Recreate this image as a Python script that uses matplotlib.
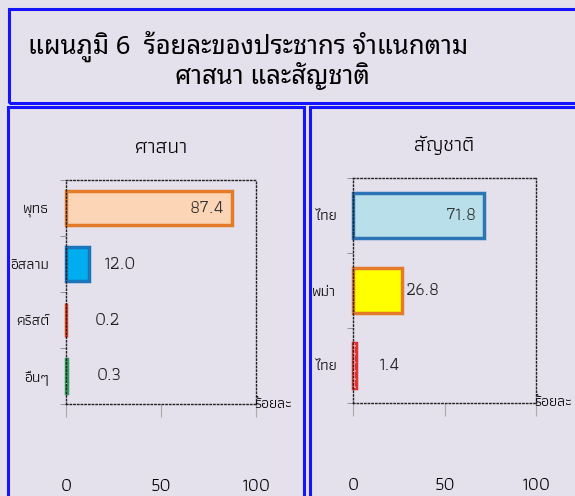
import matplotlib
matplotlib.use('Agg')
import matplotlib.pyplot as plt
from matplotlib.patches import Rectangle

# data
religions = ['พุทธ', 'อิสลาม', 'คริสต์', 'อื่นๆ']
religion_pct = [87.4, 12.0, 0.2, 0.3]
religion_fill = ['#fbd5b5', '#00aeef', '#e8401c', '#3cb878']
religion_edge = ['#e47b29', '#1b75bb', '#e8401c', '#2f9e5a']

nations = ['ไทย', 'พม่า', 'ไทย']
nation_pct = [71.8, 26.8, 1.4]
nation_fill = ['#b9e0ea', '#ffff00', '#f05050']
nation_edge = ['#2e75b6', '#e47b29', '#e03030']

xticks = [0, 50, 100]

W, H = 575, 496
BG = '#e4e0ec'
BLUE = '#1414ff'
THAI = ['Noto Sans Thai Looped', 'DejaVu Sans']
LBL = ['Athiti', 'Noto Sans Thai', 'DejaVu Sans']


def px(x0, y0, x1, y1):
    # pixel box -> figure fractions
    return [x0 / W, 1 - y1 / H, (x1 - x0) / W, (y1 - y0) / H]


def draw_panel(fig, box, title, title_y, cats, vals, fills, edges, hatches, lbl_x, lbl_inside):
    ax = fig.add_axes(px(*box))
    ax.set_facecolor('none')
    n = len(cats)
    ypos = list(range(n))
    bars = ax.barh(ypos, vals, height=0.6, color=fills, edgecolor=edges, linewidth=2.5)
    for b in bars:
        b.set_clip_on(False)
    for i, h in enumerate(hatches):
        if h:
            hb = ax.barh(ypos[i], vals[i], height=0.6, color='none', edgecolor=h[1],
                         linewidth=0, hatch=h[0])
            hb[0].set_clip_on(False)
    for i, v in enumerate(vals):
        if lbl_inside[i]:
            ax.text(v - 4, i, f'{v:.1f}', ha='right', va='center', fontsize=13,
                    family=LBL, color='#333333')
        else:
            ax.text(lbl_x[i], i, f'{v:.1f}', ha='left', va='center', fontsize=13,
                    family=LBL, color='#222222')
    ax.set_xlim(0, 100)
    ax.set_ylim(n - 0.5, -0.5)
    ax.set_xticks(xticks)
    ax.set_xticklabels([str(t) for t in xticks], family=LBL, fontsize=13)
    ax.tick_params(axis='x', length=9, color='#aaaaaa', pad=44)
    ax.set_yticks(ypos)
    ax.set_yticklabels(cats, family=LBL, fontsize=11)
    ax.tick_params(axis='y', length=0, pad=12)
    ax.set_yticks([i - 0.5 for i in range(n + 1)], minor=True)
    ax.tick_params(axis='y', which='minor', length=4, color='#888888')
    for s in ax.spines.values():
        s.set_linestyle(':')
        s.set_linewidth(1)
        s.set_color('#222222')
    ax.text(0.99, 0.0, 'ร้อยละ', transform=ax.transAxes, ha='left', va='center',
            fontsize=11, family=LBL)
    fig.text((box[0] + box[2]) / 2 / W, 1 - title_y / H, title, ha='center', va='center',
             fontsize=15, family=LBL)
    return ax


fig = plt.figure(figsize=(W / 100, H / 100), dpi=100, facecolor=BG)

# frames
for (x0, y0, x1, y1) in [(9, 9, 590, 103), (8, 107, 304, 510), (310, 107, 590, 510)]:
    fig.add_artist(Rectangle((x0 / W, 1 - y1 / H), (x1 - x0) / W, (y1 - y0) / H,
                             transform=fig.transFigure, fill=False, edgecolor=BLUE,
                             linewidth=2.2, clip_on=False))

fig.text(28 / W, 1 - 46 / H, 'แผนภูมิ 6  ร้อยละของประชากร จำแนกตาม', ha='left', va='center',
         fontsize=18.5, fontweight='bold', family=THAI)
fig.text(272 / W, 1 - 76 / H, 'ศาสนา และสัญชาติ', ha='center', va='center',
         fontsize=18.5, fontweight='bold', family=THAI)

draw_panel(fig, (66, 180, 256, 404), 'ศาสนา', 148, religions, religion_pct,
           religion_fill, religion_edge, [None, None, None, ('....', '#b5ecc5')],
           [None, 20, 15, 16], [True, False, False, False])
draw_panel(fig, (353, 178, 536, 403), 'สัญชาติ', 145, nations, nation_pct,
           nation_fill, nation_edge, [None, None, ('++', '#ffb0b0')],
           [None, 29, 14], [True, False, False])

fig.savefig('out.png', facecolor=BG)
